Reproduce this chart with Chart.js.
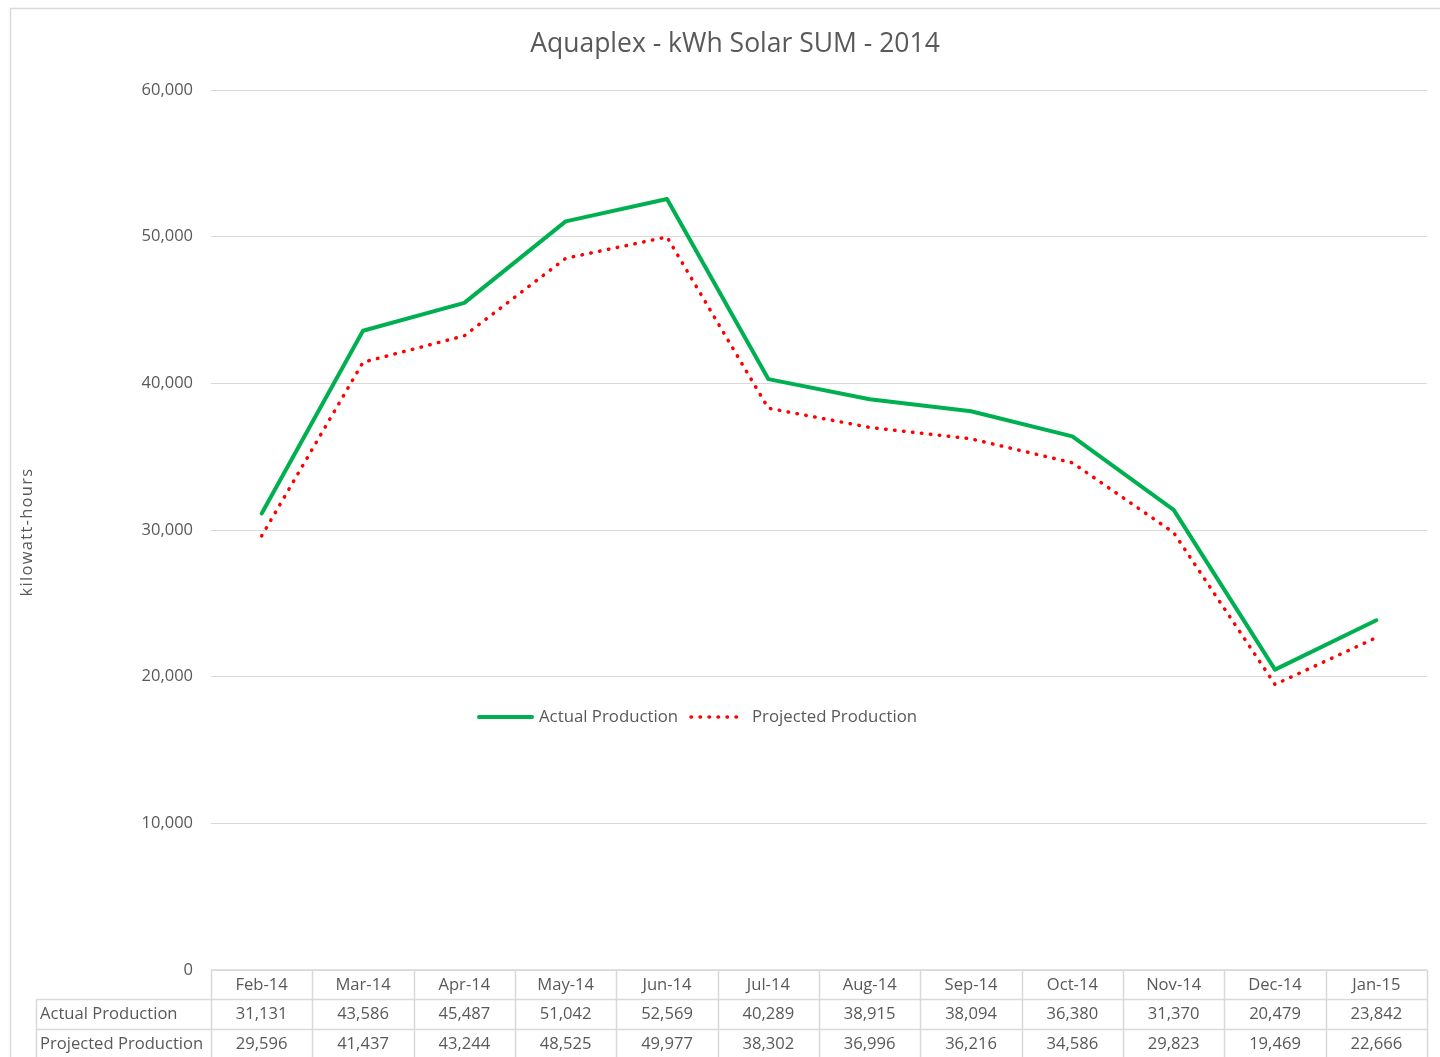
<!DOCTYPE html>
<html><head><meta charset="utf-8">
<script src="https://cdn.jsdelivr.net/npm/chart.js@4"></script>
<style>html,body{margin:0;padding:0;background:#fff;overflow:hidden}#wrap{width:1440px;height:1057px;position:relative}canvas{display:block}</style>
</head><body><div id="wrap"><canvas id="c" width="1440" height="1057"></canvas></div>
<script>
const categories = ['Feb-14','Mar-14','Apr-14','May-14','Jun-14','Jul-14','Aug-14','Sep-14','Oct-14','Nov-14','Dec-14','Jan-15'];
const actualProduction = [31131,43586,45487,51042,52569,40289,38915,38094,36380,31370,20479,23842];
const projectedProduction = [29596,41437,43244,48525,49977,38302,36996,36216,34586,29823,19469,22666];
const seriesLabels = ['Actual Production','Projected Production'];
const yTicks = [0,10000,20000,30000,40000,50000,60000];
const chartTitle = 'Aquaplex - kWh Solar SUM - 2014';
const yAxisTitle = 'kilowatt-hours';

const FONT = '"Open Sans", "Noto Sans", sans-serif';
const TXT = '#595959';
const GRID = '#d9d9d9';
const fmt = v => v.toLocaleString('en-US');

const deco = {
  id: 'deco',
  beforeDraw(chart) {
    const ctx = chart.ctx;
    ctx.save();
    ctx.fillStyle = '#fff';
    ctx.fillRect(0, 0, chart.width, chart.height);
    ctx.strokeStyle = GRID;
    ctx.lineWidth = 1.5;
    ctx.beginPath();
    ctx.moveTo(10.5, chart.height + 5);
    ctx.lineTo(10.5, 8.5);
    ctx.lineTo(chart.width + 5, 8.5);
    ctx.stroke();
    ctx.restore();
  },
  afterDraw(chart) {
    const ctx = chart.ctx;
    const ca = chart.chartArea;
    const xs = chart.scales.x;
    ctx.save();
    // title
    ctx.fillStyle = TXT;
    ctx.font = '26.5px ' + FONT;
    ctx.textAlign = 'center';
    ctx.textBaseline = 'middle';
    ctx.fillText(chartTitle, 735, 44);
    // y axis title
    ctx.save();
    ctx.translate(27, 532);
    ctx.rotate(-Math.PI / 2);
    ctx.font = '16.5px ' + FONT;
    ctx.letterSpacing = '1.3px';
    ctx.fillText(yAxisTitle, 0, 0);
    ctx.restore();
    // legend
    const ly = 717;
    ctx.font = '16.8px ' + FONT;
    ctx.textAlign = 'left';
    const ds = chart.data.datasets;
    ctx.lineCap = 'round';
    ctx.strokeStyle = ds[0].borderColor; ctx.lineWidth = ds[0].borderWidth;
    ctx.setLineDash([]);
    ctx.beginPath(); ctx.moveTo(479, ly); ctx.lineTo(532, ly); ctx.stroke();
    ctx.fillStyle = TXT;
    ctx.fillText(ds[0].label, 539, ly);
    ctx.strokeStyle = ds[1].borderColor; ctx.lineWidth = ds[1].borderWidth;
    ctx.setLineDash(ds[1].borderDash);
    ctx.beginPath(); ctx.moveTo(691, ly); ctx.lineTo(743, ly); ctx.stroke();
    ctx.setLineDash([]);
    ctx.fillText(ds[1].label, 752, ly);
    // data table
    const n = categories.length;
    const cw = (ca.right - ca.left) / n;
    const rows = [ca.bottom, 999.5, 1029.5, chart.height + 5];
    ctx.strokeStyle = GRID; ctx.lineWidth = 1.5; ctx.lineCap = 'butt';
    ctx.beginPath();
    ctx.moveTo(ca.left, rows[0]); ctx.lineTo(ca.right, rows[0]);
    ctx.moveTo(36.5, rows[1]); ctx.lineTo(ca.right, rows[1]);
    ctx.moveTo(36.5, rows[2]); ctx.lineTo(ca.right, rows[2]);
    ctx.moveTo(36.5, rows[1]); ctx.lineTo(36.5, rows[3]);
    for (let i = 0; i <= n; i++) {
      const x = Math.round(ca.left + i * cw) + 0.5;
      ctx.moveTo(x, rows[0]); ctx.lineTo(x, rows[3]);
    }
    ctx.stroke();
    ctx.fillStyle = TXT;
    ctx.font = '16.6px ' + FONT;
    ctx.textBaseline = 'middle';
    ctx.textAlign = 'left';
    ctx.fillText(seriesLabels[0], 40, 1014);
    ctx.fillText(seriesLabels[1], 40, 1044);
    ctx.textAlign = 'center';
    for (let i = 0; i < n; i++) {
      const x = xs.getPixelForValue(i);
      ctx.fillText(categories[i], x, 985);
      ctx.fillText(fmt(actualProduction[i]), x, 1014);
      ctx.fillText(fmt(projectedProduction[i]), x, 1044);
    }
    ctx.restore();
  }
};

new Chart(document.getElementById('c'), {
  type: 'line',
  data: {
    labels: categories,
    datasets: [
      { label: seriesLabels[0], data: actualProduction, borderColor: '#00b050', borderWidth: 4,
        pointRadius: 0, tension: 0, borderJoinStyle: 'round', borderCapStyle: 'round', fill: false },
      { label: seriesLabels[1], data: projectedProduction, borderColor: '#ff0000', borderWidth: 3.5,
        borderDash: [0.5, 8.5], borderCapStyle: 'round', pointRadius: 0, tension: 0, fill: false }
    ]
  },
  options: {
    responsive: false,
    animation: false,
    devicePixelRatio: 1,
    layout: { padding: { left: 0, top: 90, right: 13, bottom: 87 } },
    plugins: { legend: { display: false }, title: { display: false }, tooltip: { enabled: false } },
    scales: {
      x: { type: 'category', display: false, offset: true },
      y: {
        min: 0, max: 60000,
        afterBuildTicks: s => { s.ticks = yTicks.map(v => ({ value: v })); },
        afterFit: s => { s.width = 211; },
        border: { display: false },
        grid: { color: GRID, lineWidth: 1, drawTicks: false },
        ticks: { padding: 18, color: TXT, font: { family: FONT, size: 16.5 }, callback: v => fmt(v) }
      }
    }
  },
  plugins: [deco]
});
</script></body></html>
